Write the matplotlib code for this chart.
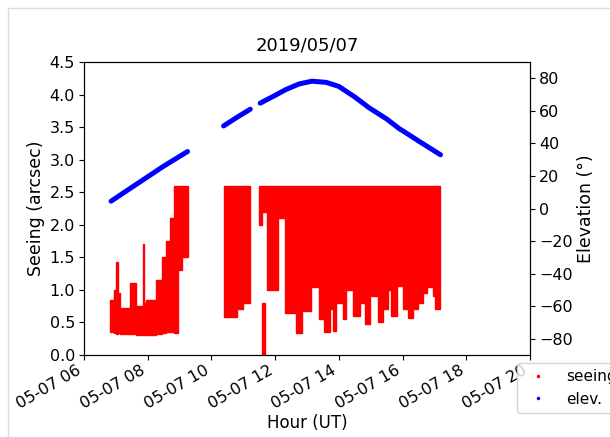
import matplotlib
matplotlib.use("Agg")
import matplotlib.pyplot as plt
import numpy as np
from matplotlib.lines import Line2D
from matplotlib.patches import Rectangle

# ---- data ----
title = "2019/05/07"
xtick_hours = [6, 8, 10, 12, 14, 16, 18, 20]
xtick_labels = ["05-07 06", "05-07 08", "05-07 10", "05-07 12",
                "05-07 14", "05-07 16", "05-07 18", "05-07 20"]
seeing_ticks = [0.0, 0.5, 1.0, 1.5, 2.0, 2.5, 3.0, 3.5, 4.0, 4.5]
elev_ticks = [-80, -60, -40, -20, 0, 20, 40, 60, 80]

# seeing measurements, summarised as time blocks (hours UT) with min/max seeing
seeing_start = [6.81, 6.94, 7.00, 7.06, 7.13, 7.44, 7.63, 7.84, 7.89, 7.94, 8.25, 8.44,
                8.56, 8.69, 8.81, 8.94, 9.09,
                10.38, 10.81, 11.00,
                11.50, 11.59, 11.60, 11.69, 11.75, 12.09, 12.31, 12.41, 12.66, 12.84,
                13.13, 13.38, 13.53, 13.72, 13.81, 13.91, 14.13, 14.22, 14.44, 14.66,
                14.81, 14.97, 15.22, 15.38, 15.53, 15.63, 15.84, 16.00, 16.16, 16.34,
                16.47, 16.63, 16.78, 16.94, 17.03]
seeing_end = [6.94, 7.00, 7.06, 7.13, 7.44, 7.63, 7.84, 7.89, 7.94, 8.25, 8.44, 8.56,
              8.69, 8.81, 8.94, 9.09, 9.25,
              10.81, 11.00, 11.22,
              11.59, 11.69, 11.67, 11.75, 12.09, 12.31, 12.41, 12.66, 12.84, 13.13,
              13.38, 13.53, 13.72, 13.81, 13.91, 14.13, 14.22, 14.44, 14.66, 14.81,
              14.97, 15.22, 15.38, 15.53, 15.63, 15.84, 16.00, 16.16, 16.34, 16.47,
              16.63, 16.78, 16.94, 17.03, 17.19]
seeing_low = [0.36, 0.34, 0.33, 0.34, 0.33, 0.32, 0.30, 0.30, 0.30, 0.30, 0.32, 0.34,
              0.35, 0.36, 0.34, 1.30, 1.50,
              0.58, 0.70, 0.80,
              2.00, 2.20, 0.00, 2.20, 1.00, 2.10, 0.65, 0.64, 0.34, 0.68,
              1.05, 0.55, 0.36, 0.70, 0.37, 0.80, 0.55, 1.00, 0.60, 0.80,
              0.48, 0.90, 0.50, 0.70, 1.00, 0.60, 1.06, 0.70, 0.57, 0.70,
              0.80, 0.95, 1.05, 0.90, 0.70]
seeing_high = [0.85, 1.00, 1.43, 0.95, 0.72, 1.10, 0.75, 1.70, 0.80, 0.85, 1.15, 1.50,
               1.75, 2.10, 2.60, 2.60, 2.60,
               2.60, 2.60, 2.60,
               2.60, 2.60, 0.80, 2.60, 2.60, 2.60, 2.60, 2.60, 2.60, 2.60,
               2.60, 2.60, 2.60, 2.60, 2.60, 2.60, 2.60, 2.60, 2.60, 2.60,
               2.60, 2.60, 2.60, 2.60, 2.60, 2.60, 2.60, 2.60, 2.60, 2.60,
               2.60, 2.60, 2.60, 2.60, 2.60]

# elevation (degrees) vs time (hours UT); NaN marks gaps
elev_time = [6.85, 7.5, 8.0, 8.5, 9.0, 9.25, 9.8,
             10.38, 10.8, 11.22, 11.38,
             11.53, 12.0, 12.33, 12.75, 13.15, 13.6, 14.0, 14.5, 14.94, 15.5,
             15.9, 16.0, 16.5, 17.19]
elev_deg = [4.5, 13.0, 19.5, 26.0, 32.0, 35.0, np.nan,
            50.7, 56.0, 61.0, np.nan,
            64.7, 69.5, 73.0, 76.5, 78.2, 77.5, 75.0, 68.5, 62.0, 55.0,
            49.0, 47.8, 41.5, 33.0]

# ---- figure ----
fig = plt.figure(figsize=(6.10, 4.37), dpi=100)
ax = fig.add_axes([84/610, 1-355/437, (530-84)/610, (355-62)/437])
ax2 = ax.twinx()

s0 = np.array(seeing_start); s1 = np.array(seeing_end)
lo = np.array(seeing_low); hi = np.array(seeing_high)
ax.bar(s0, hi - lo, bottom=lo, width=s1 - s0, align='edge',
       color='red', edgecolor='red', linewidth=1.0)

ax2.plot(elev_time, elev_deg, '-', color='blue', lw=3.6, solid_capstyle='round')

TICK = 11.5
LAB = 12.5
ax.set_xlim(6, 20)
ax.set_ylim(0, 4.5)
ax2.set_ylim(-90, 90)
ax.set_xticks(xtick_hours)
ax.set_xticklabels(xtick_labels, rotation=30, ha='right', fontsize=TICK)
ax.set_yticks(seeing_ticks)
ax.tick_params(axis='y', labelsize=TICK, pad=3)
ax2.set_yticks(elev_ticks)
ax2.tick_params(axis='y', labelsize=TICK, pad=3)
ax.tick_params(axis='x', pad=2)
ax.set_ylabel("Seeing (arcsec)", fontsize=LAB, labelpad=3)
ax2.set_ylabel("Elevation (°)", fontsize=LAB, labelpad=3)
ax.set_xlabel("Hour (UT)", fontsize=12, labelpad=2)
ax.set_title(title, fontsize=13, pad=8)

handles = [Line2D([], [], ls='none', marker='.', color='red', markersize=3),
           Line2D([], [], ls='none', marker='.', color='blue', markersize=3)]
fig.legend(handles, ["seeing", "elev."], loc='upper left',
           bbox_to_anchor=(517/610, 1-363/437), borderaxespad=0,
           frameon=True, fontsize=11)

fig.patches.append(Rectangle((8/610, -0.1), 1.2, 1 - 8/437 + 0.1,
                             transform=fig.transFigure, fill=False,
                             edgecolor='#dddddd', linewidth=1.0))

fig.savefig("out.png", dpi=100)
